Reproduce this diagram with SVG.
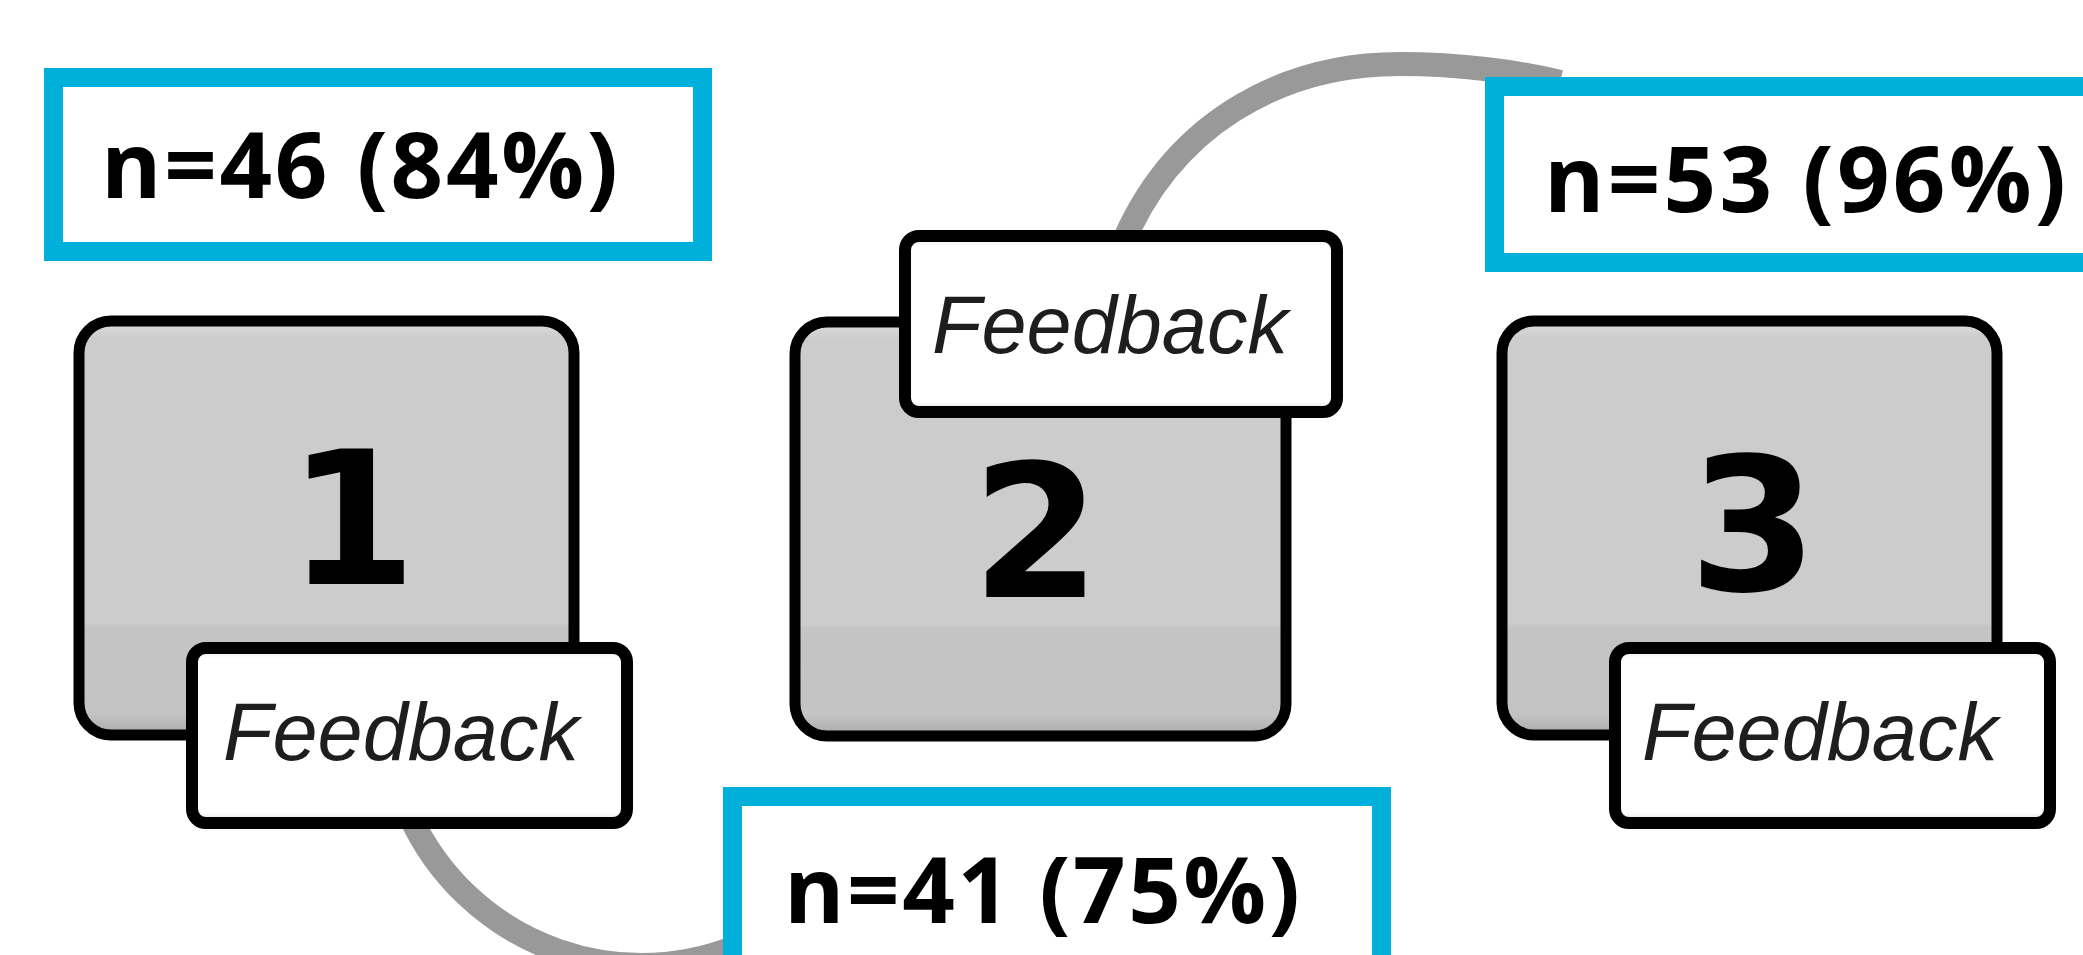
<svg xmlns="http://www.w3.org/2000/svg" width="2083" height="955" viewBox="0 0 2083 955">
  <defs>
    <!-- grey step tile: light rim on top, slightly darker band near the bottom -->
    <linearGradient id="stepFill" x1="0" y1="0" x2="0" y2="1">
      <stop offset="0" stop-color="#dedede"/>
      <stop offset="0.04" stop-color="#cccccc"/>
      <stop offset="0.73" stop-color="#cccccc"/>
      <stop offset="0.74" stop-color="#c4c4c4"/>
      <stop offset="0.95" stop-color="#c3c3c3"/>
      <stop offset="1" stop-color="#a9a9a9"/>
    </linearGradient>
    <!-- white feedback tag with faint top and bottom rims -->
    <linearGradient id="tagFill" x1="0" y1="0" x2="0" y2="1">
      <stop offset="0" stop-color="#e8e8e8"/>
      <stop offset="0.06" stop-color="#ffffff"/>
      <stop offset="0.94" stop-color="#ffffff"/>
      <stop offset="1" stop-color="#d8d8d8"/>
    </linearGradient>
  </defs>
  <style>
    .step { fill: url(#stepFill); stroke: #000; stroke-width: 11; }
    .tag { fill: url(#tagFill); stroke: #000; stroke-width: 12; }
    .count { fill: #fff; stroke: #00b0da; stroke-width: 19; }
    .arc { fill: none; stroke: #999999; stroke-width: 24; }
    .num { font-family: "DejaVu Sans", sans-serif; font-weight: bold; font-size: 185px; text-anchor: middle; fill: #000; }
    .fb { font-family: "Liberation Sans", Arial, sans-serif; font-style: italic; font-size: 82px; fill: #1e1e1e; }
    .lbl { font-family: "Open Sans", "Liberation Sans", sans-serif; font-weight: bold; font-size: 92px; fill: #000; }
  </style>

  <rect width="2083" height="955" fill="#fff"/>

  <!-- curved grey links running behind the tiles -->
  <g id="connectors">
    <path class="arc" d="M409.6,815 A255,255 0 0 0 760,936"/>
    <path class="arc" d="M1120,250 C1170,125 1280,64 1400,64 C1460,64 1520,72 1560,82"/>
  </g>

  <g id="step1">
    <rect class="step" x="79" y="321" width="495" height="414" rx="32"/>
    <text class="num" x="352" y="584">1</text>
  </g>
  <g id="step2">
    <rect class="step" x="795" y="322" width="491" height="414" rx="32"/>
    <text class="num" x="1036" y="597">2</text>
  </g>
  <g id="step3">
    <rect class="step" x="1502" y="321" width="495" height="414" rx="32"/>
    <text class="num" x="1753" y="590">3</text>
  </g>

  <g id="feedback1">
    <rect class="tag" x="192" y="648" width="435" height="175" rx="14"/>
    <text class="fb" x="223" y="760" textLength="356" lengthAdjust="spacingAndGlyphs">Feedback</text>
  </g>
  <g id="feedback2">
    <rect class="tag" x="905" y="236" width="432" height="176" rx="14"/>
    <text class="fb" x="932" y="353" textLength="356" lengthAdjust="spacingAndGlyphs">Feedback</text>
  </g>
  <g id="feedback3">
    <rect class="tag" x="1615" y="648" width="435" height="175" rx="14"/>
    <text class="fb" x="1642" y="760" textLength="356" lengthAdjust="spacingAndGlyphs">Feedback</text>
  </g>

  <g id="count1">
    <rect class="count" x="53.5" y="77.5" width="649" height="174"/>
    <text class="lbl" x="101" y="198" textLength="517" lengthAdjust="spacing">n=46 (84%)</text>
  </g>
  <g id="count2">
    <rect class="count" x="1494.5" y="86.5" width="620" height="176"/>
    <text class="lbl" x="1544" y="212" textLength="522" lengthAdjust="spacing">n=53 (96%)</text>
  </g>
  <g id="count3">
    <rect class="count" x="732.5" y="796.5" width="649" height="200"/>
    <text class="lbl" x="784" y="923" textLength="516" lengthAdjust="spacing">n=41 (75%)</text>
  </g>
</svg>
